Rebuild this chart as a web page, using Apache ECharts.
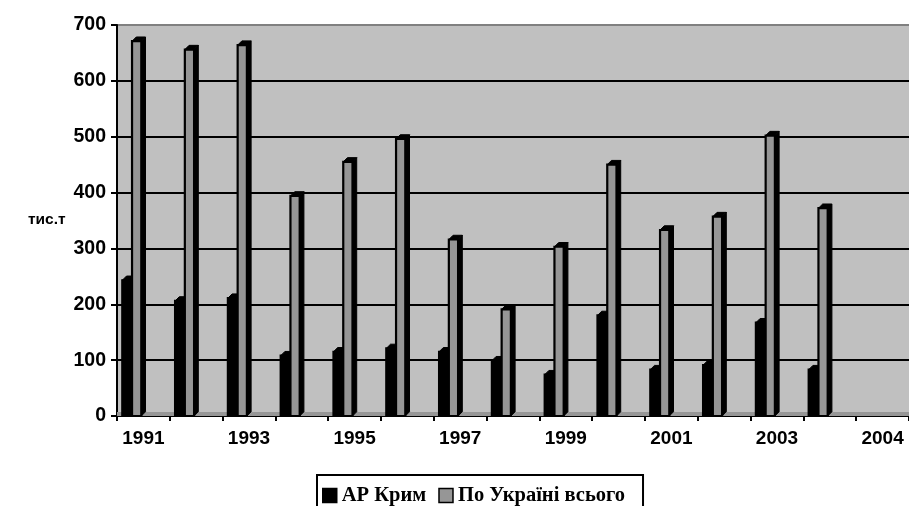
<!DOCTYPE html>
<html><head><meta charset="utf-8">
<script src="https://cdn.jsdelivr.net/npm/echarts@6/dist/echarts.min.js"></script>
<style>html,body{margin:0;padding:0;background:#fff;overflow:hidden}#c{width:909px;height:506px}</style>
</head><body><div id="c"></div>
<script>
const categories = ['1991','1992','1993','1994','1995','1996','1997','1998','1999','2000','2001','2002','2003','2004',''];
const tickLabels = ['1991','','1993','','1995','','1997','','1999','','2001','','2003','','2004'];
const seriesNames = ['АР Крим', 'По Україні всього'];
const crimea   = [243, 206, 211, 108, 115, 121, 115, 99, 74, 180, 83, 91, 167, 83];
const ukraine  = [671, 656, 664, 394, 455, 496, 316, 191, 303, 450, 333, 357, 502, 372];

const SANS = "'Liberation Sans', Arial, sans-serif";
const SERIF = "'Liberation Serif', 'Times New Roman', serif";

function makeRender(kind) {
  return function (params, api) {
    const idx = api.value(0), v = api.value(1);
    const top = api.coord([idx, v]);
    const base = api.coord([idx, 0]);
    const bw = api.size([1, 0])[0];
    const s = top[0] - bw / 2;
    const d = bw * 0.08;
    let x0, w;
    if (kind === 0) { x0 = s + bw * 0.10; w = bw * 0.17; }
    else { x0 = s + bw * 0.285; w = bw * 0.175; }
    const x1 = x0 + w, yt = top[1], yb = base[1];
    const children = [];
    children.push({ type: 'polygon', shape: { points: [[x1, yt], [x1 + d, yt - d], [x1 + d, yb - d], [x1, yb]] },
      style: { fill: '#000', stroke: '#000', lineWidth: 1 } });
    children.push({ type: 'polygon', shape: { points: [[x0, yt], [x0 + d, yt - d], [x1 + d, yt - d], [x1, yt]] },
      style: { fill: '#000', stroke: '#000', lineWidth: 1 } });
    children.push({ type: 'rect', shape: { x: x0, y: yt, width: w, height: yb - yt },
      style: { fill: kind === 0 ? '#000' : '#969696', stroke: '#000', lineWidth: 2.2 } });
    return { type: 'group', children: children };
  };
}

const chart = echarts.init(document.getElementById('c'), null, { renderer: 'canvas' });
chart.setOption({
  animation: false,
  backgroundColor: '#fff',
  title: { text: 'тис.т', left: 28, top: 212, padding: 0,
    textStyle: { fontFamily: SANS, fontSize: 15.5, fontWeight: 'bold', color: '#000' } },
  grid: { left: 117, top: 25, right: -8, bottom: 90, show: true, backgroundColor: '#C0C0C0', borderWidth: 0 },
  legend: {
    data: seriesNames, left: 317, top: 475, orient: 'horizontal',
    padding: [10, 18, 14, 5], itemGap: 12, itemWidth: 14, itemHeight: 14,
    borderColor: '#000', borderWidth: 2, backgroundColor: '#fff',
    icon: 'rect',
    itemStyle: { borderColor: '#000', borderWidth: 1.5 },
    textStyle: { fontFamily: SERIF, fontSize: 20.5, fontWeight: 'bold', color: '#000' }
  },
  xAxis: {
    type: 'category', data: categories, boundaryGap: true,
    axisLine: { show: true, lineStyle: { color: '#000', width: 2 } },
    axisTick: { show: true, interval: 0, length: 5, lineStyle: { color: '#000', width: 2 } },
    axisLabel: { interval: 1, margin: 13, fontFamily: SANS, fontSize: 19, fontWeight: 'bold', color: '#000',
      formatter: function (val, i) { return tickLabels[i]; } },
    splitLine: { show: false }
  },
  yAxis: {
    type: 'value', min: 0, max: 700, interval: 100,
    axisLine: { show: true, lineStyle: { color: '#000', width: 2 } },
    axisTick: { show: true, length: 6, lineStyle: { color: '#000', width: 2 } },
    axisLabel: { margin: 11, fontFamily: SANS, fontSize: 19.5, fontWeight: 'bold', color: '#000' },
    splitLine: { show: true, lineStyle: { color: ['#000','#000','#000','#000','#000','#000','#000','#808080'], width: 2 } }
  },
  series: [
    { type: 'line', name: 'floor', data: [], silent: true, z: 1,
      markArea: { silent: true, itemStyle: { color: '#969696' }, data: [[{ yAxis: 0 }, { yAxis: 7 }]] } },
    { type: 'custom', name: seriesNames[0], renderItem: makeRender(0), itemStyle: { color: '#000' },
      encode: { x: 0, y: 1 }, data: crimea.map((v, i) => [i, v]), z: 3 },
    { type: 'custom', name: seriesNames[1], renderItem: makeRender(1), itemStyle: { color: '#969696' },
      encode: { x: 0, y: 1 }, data: ukraine.map((v, i) => [i, v]), z: 3 }
  ]
});
</script></body></html>
